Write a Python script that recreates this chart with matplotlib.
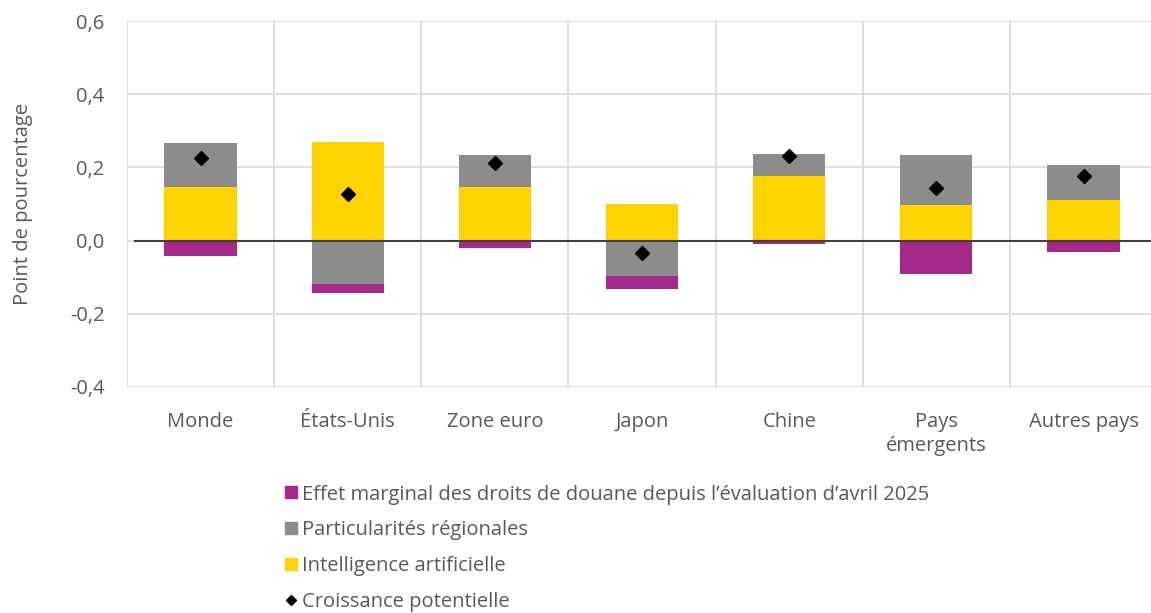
import matplotlib.pyplot as plt
import numpy as np
from matplotlib.lines import Line2D
from matplotlib.ticker import FuncFormatter

plt.rcParams['font.family'] = ['Open Sans', 'DejaVu Sans']

categories = ["Monde", "États-Unis", "Zone euro", "Japon", "Chine", "Pays\némergents", "Autres pays"]
ia = [0.147, 0.270, 0.147, 0.101, 0.177, 0.097, 0.110]
regional = [0.120, -0.118, 0.087, -0.098, 0.059, 0.137, 0.097]
douane = [-0.041, -0.026, -0.020, -0.033, -0.008, -0.091, -0.031]
potentielle = [0.226, 0.126, 0.213, -0.033, 0.230, 0.144, 0.176]

c_purple = '#A8298C'
c_gray = '#8C8C8C'
c_yellow = '#FFD400'
txt = '#595959'
fs = 14.5

fig = plt.figure(figsize=(11.51, 6.13), dpi=100)
ax = fig.add_axes([0.1103, 0.3687, 0.895, 0.597])

x = np.arange(len(categories))
w = 0.49

# stacking: positives upward, negatives downward
pos = np.zeros(len(x))
neg = np.zeros(len(x))
for vals, col in [(ia, c_yellow), (regional, c_gray), (douane, c_purple)]:
    v = np.array(vals)
    bottom = np.where(v >= 0, pos, neg)
    ax.bar(x, v, w, bottom=bottom, color=col, zorder=2)
    pos = pos + np.where(v >= 0, v, 0)
    neg = neg + np.where(v < 0, v, 0)

ax.plot(x, potentielle, 'D', color='black', markersize=7, zorder=4)
ax.axhline(0, color='#404040', lw=1.5, zorder=3, xmin=0.008)

ax.set_xlim(-0.5, len(x) - 0.5)
ax.set_ylim(-0.4, 0.6)
ax.set_yticks([-0.4, -0.2, 0.0, 0.2, 0.4, 0.6])
ax.yaxis.set_major_formatter(FuncFormatter(lambda v, p: f"{v:.1f}".replace('.', ',')))
ax.grid(axis='y', color='#D9D9D9', lw=1.2, zorder=0)
for xv in np.arange(-0.5, len(x), 1.0):
    ax.axvline(xv, color='#D9D9D9', lw=1.2, zorder=0)

ax.set_xticks(x)
ax.set_xticklabels(categories, va='top', linespacing=1.3)
ax.tick_params(length=0, labelsize=fs, colors=txt)
ax.tick_params(axis='x', pad=18)
ax.tick_params(axis='y', pad=16)
for s in ax.spines.values():
    s.set_visible(False)

ax.set_ylabel("Point de pourcentage", fontsize=fs, color=txt, labelpad=27)

handles = [
    Line2D([], [], marker='s', ls='none', color=c_purple, markersize=9),
    Line2D([], [], marker='s', ls='none', color=c_gray, markersize=9),
    Line2D([], [], marker='s', ls='none', color=c_yellow, markersize=9),
    Line2D([], [], marker='D', ls='none', color='black', markersize=5),
]
labels = [
    "Effet marginal des droits de douane depuis l\u2019évaluation d\u2019avril 2025",
    "Particularités régionales",
    "Intelligence artificielle",
    "Croissance potentielle",
]
leg = fig.legend(handles, labels, loc='upper left', bbox_to_anchor=(0.24, 0.226),
                 frameon=False, fontsize=fs, handlelength=0.5, handletextpad=0.3,
                 labelspacing=0.78, borderpad=0)
for t in leg.get_texts():
    t.set_color(txt)

fig.savefig("out.png", dpi=100)
